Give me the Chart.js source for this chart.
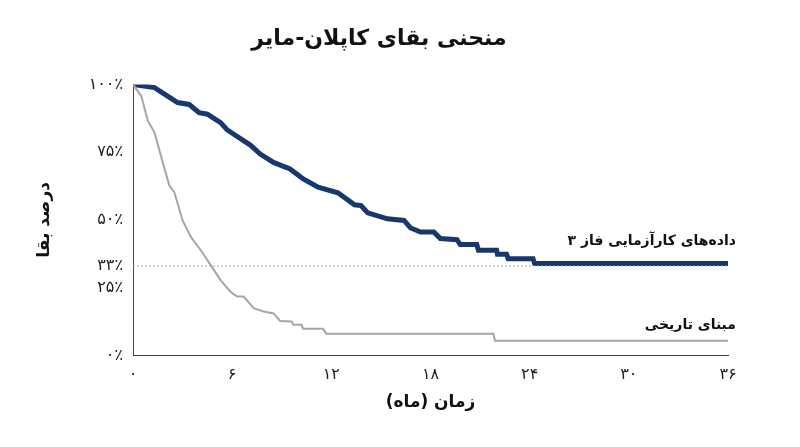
<!DOCTYPE html>
<html><head><meta charset="utf-8">
<script src="https://cdn.jsdelivr.net/npm/chart.js@4"></script>
<style>html,body{margin:0;background:#fff}#w{width:800px;height:447px}</style>
</head><body><div id="w"><canvas id="c"></canvas></div>
<script>
const trialX=[0,1.3,2.7,3.4,4.0,4.5,5.3,5.7,6.1,7.1,7.7,8.5,9.5,10.3,11.2,12.4,13.4,13.8,14.2,15.4,16.4,16.8,17.4,18.2,18.6,19.6,19.8,20.8,20.9,22.0,22.05,22.6,22.7,24.2,24.3,36];
const trialY=[100,98.8,93.3,92.6,89.6,89,85.9,83.2,81.6,77.6,74.3,71.2,68.8,65.1,62.1,60,55.6,55.3,52.6,50.4,49.8,47,45.5,45.5,43.1,42.7,40.9,40.9,38.8,38.8,37.3,37.3,35.7,35.7,33.9,33.9];
const histX=[0,0.5,0.9,1.3,1.8,2.2,2.5,3.0,3.5,4.1,4.7,5.3,5.9,6.3,6.7,7.3,7.9,8.5,8.9,9.6,9.7,10.2,10.3,11.5,11.7,21.8,21.9,36];
const histY=[100,95.7,86.5,82.3,71.2,62.7,60.2,49.8,43.7,38.8,33.3,27.8,23.5,21.7,21.7,17.4,16.2,15.5,12.7,12.5,11.3,11.3,9.8,9.8,8,8,5.4,5.4];
const xTicks=[0,6,12,18,24,30,36];
const yTicks=[0,25,33,50,75,100];
const refLevel=33;
const labels={trial:"داده‌های کارآزمایی فاز ۳",hist:"مبنای تاریخی"};
const fa=n=>String(n).replace(/\d/g,d=>"۰۱۲۳۴۵۶۷۸۹"[d]);
const pts=(xs,ys)=>xs.map((x,i)=>({x,y:ys[i]}));
const F="'DejaVu Sans'";
const endLabels={id:'el',afterDatasetsDraw(ch){const c=ch.ctx,x=ch.scales.x,y=ch.scales.y;c.save();c.font="bold 14px "+F;c.fillStyle="#111";c.textAlign="right";c.textBaseline="middle";
c.fillText(labels.trial,x.getPixelForValue(36)+8,y.getPixelForValue(42));
c.fillText(labels.hist,x.getPixelForValue(36)+8,y.getPixelForValue(11));c.restore();}};
new Chart(document.getElementById('c'),{type:'line',
data:{datasets:[
{data:[{x:0,y:refLevel},{x:36,y:refLevel}],borderColor:'#aaa',borderWidth:1,borderDash:[2,2],pointRadius:0},
{data:pts(histX,histY),borderColor:'#a6a6a6',borderWidth:2,pointRadius:0,tension:0},
{data:pts(trialX,trialY),borderColor:'#16386e',borderWidth:5,pointRadius:0,tension:0}]},
options:{animation:false,responsive:true,maintainAspectRatio:false,
layout:{padding:{left:30,right:72,top:4,bottom:30}},
plugins:{legend:{display:false},tooltip:{enabled:false},
title:{display:true,text:'منحنی بقای کاپلان-مایر',font:{family:F,size:22,weight:'bold'},color:'#111',padding:{top:22,bottom:32}}},
scales:{
x:{type:'linear',min:0,max:36,afterBuildTicks:s=>{s.ticks=xTicks.map(v=>({value:v}))},
grid:{display:false,drawTicks:true,tickLength:6,tickColor:'#444'},border:{color:'#444'},
ticks:{callback:v=>fa(v),font:{family:F,size:16},color:'#222',padding:4},
title:{display:true,text:'زمان (ماه)',font:{family:F,size:17,weight:'bold'},color:'#111'}},
y:{min:0,max:100,afterBuildTicks:s=>{s.ticks=yTicks.map(v=>({value:v}))},afterFit:s=>{s.width=103},
grid:{display:false,drawTicks:true,tickLength:6,tickColor:'#444'},border:{color:'#444'},
ticks:{callback:v=>fa(v)+'٪',font:{family:F,size:16},color:'#222',padding:4},
title:{display:true,text:'درصد بقا',font:{family:F,size:17,weight:'bold'},color:'#111'}}}},
plugins:[endLabels]});
</script></body></html>
